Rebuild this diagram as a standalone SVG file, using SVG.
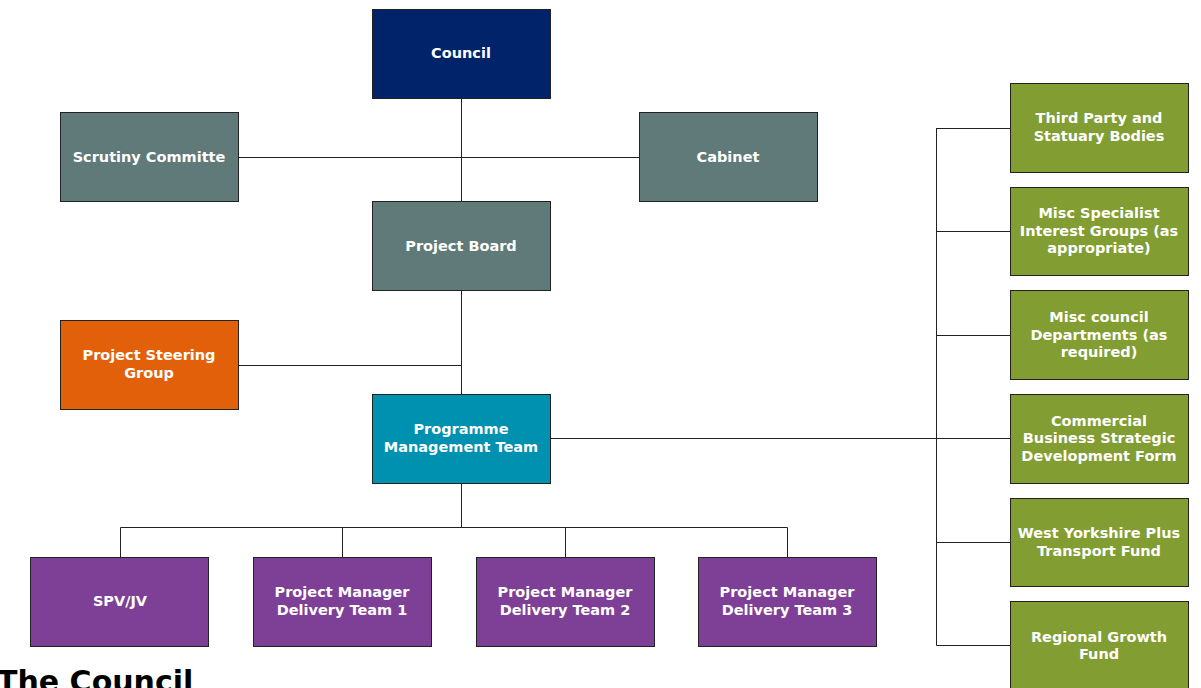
<svg xmlns="http://www.w3.org/2000/svg" width="1201" height="688" viewBox="0 0 1201 688">
<style>
.b{stroke:#222;stroke-width:1}
.t{font-family:"DejaVu Sans","Liberation Sans",sans-serif;font-weight:bold;font-size:14.5px;fill:#fff;text-anchor:middle}
.c{stroke:#222;stroke-width:1;fill:none}
.navy{fill:#002369}.grey{fill:#5F7A78}.orange{fill:#E3600A}.teal{fill:#0090B0}.purple{fill:#7E3F96}.green{fill:#829D31}
</style>
<rect width="1201" height="688" fill="#fff"/>
<g id="connectors">
<path class="c" d="M461.5 98V201M238 157.5H639M461.5 290V394M238 365.5H461.5M461.5 483V527.5M120.5 557V527.5H787.5V557M342.5 527.5V557M565.5 527.5V557M550 438.5H1010M936.5 128V645.5M936.5 128.5H1010M936.5 231.5H1010M936.5 335.5H1010M936.5 542.5H1010M936.5 645.5H1010"/>
</g>
<g id="council"><rect class="b navy" x="372.5" y="9.5" width="178" height="89"/><text class="t" x="461" y="58">Council</text></g>
<g id="scrutiny"><rect class="b grey" x="60.5" y="112.5" width="178" height="89"/><text class="t" x="149" y="162">Scrutiny Committe</text></g>
<g id="cabinet"><rect class="b grey" x="639.5" y="112.5" width="178" height="89"/><text class="t" x="728" y="162">Cabinet</text></g>
<g id="board"><rect class="b grey" x="372.5" y="201.5" width="178" height="89"/><text class="t" x="461" y="251">Project Board</text></g>
<g id="steering"><rect class="b orange" x="60.5" y="320.5" width="178" height="89"/><text class="t" x="149" y="360">Project Steering</text><text class="t" x="149" y="378">Group</text></g>
<g id="pmt"><rect class="b teal" x="372.5" y="394.5" width="178" height="89"/><text class="t" x="461" y="434">Programme</text><text class="t" x="461" y="452">Management Team</text></g>
<g id="spv"><rect class="b purple" x="30.5" y="557.5" width="178" height="89"/><text class="t" x="120" y="606">SPV/JV</text></g>
<g id="pm1"><rect class="b purple" x="253.5" y="557.5" width="178" height="89"/><text class="t" x="342" y="597">Project Manager</text><text class="t" x="342" y="615">Delivery Team 1</text></g>
<g id="pm2"><rect class="b purple" x="476.5" y="557.5" width="178" height="89"/><text class="t" x="565" y="597">Project Manager</text><text class="t" x="565" y="615">Delivery Team 2</text></g>
<g id="pm3"><rect class="b purple" x="698.5" y="557.5" width="178" height="89"/><text class="t" x="787" y="597">Project Manager</text><text class="t" x="787" y="615">Delivery Team 3</text></g>
<g id="third"><rect class="b green" x="1010.5" y="83.5" width="178" height="89"/><text class="t" x="1099" y="123">Third Party and</text><text class="t" x="1099" y="141">Statuary Bodies</text></g>
<g id="specialist"><rect class="b green" x="1010.5" y="187.5" width="178" height="88"/><text class="t" x="1099" y="218">Misc Specialist</text><text class="t" x="1099" y="236">Interest Groups (as</text><text class="t" x="1099" y="253">appropriate)</text></g>
<g id="departments"><rect class="b green" x="1010.5" y="290.5" width="178" height="89"/><text class="t" x="1099" y="322">Misc council</text><text class="t" x="1099" y="340">Departments (as</text><text class="t" x="1099" y="357">required)</text></g>
<g id="commercial"><rect class="b green" x="1010.5" y="394.5" width="178" height="89"/><text class="t" x="1099" y="426">Commercial</text><text class="t" x="1099" y="443">Business Strategic</text><text class="t" x="1099" y="461">Development Form</text></g>
<g id="westyorks"><rect class="b green" x="1010.5" y="498.5" width="178" height="88"/><text class="t" x="1099" y="538">West Yorkshire Plus</text><text class="t" x="1099" y="556">Transport Fund</text></g>
<g id="regional"><rect class="b green" x="1010.5" y="601.5" width="178" height="89"/><text class="t" x="1099" y="642">Regional Growth</text><text class="t" x="1099" y="659">Fund</text></g>
<text x="-3" y="692" style="font-family:'DejaVu Sans','Liberation Sans',sans-serif;font-weight:bold;font-size:30px;fill:#000">The Council</text>
</svg>
